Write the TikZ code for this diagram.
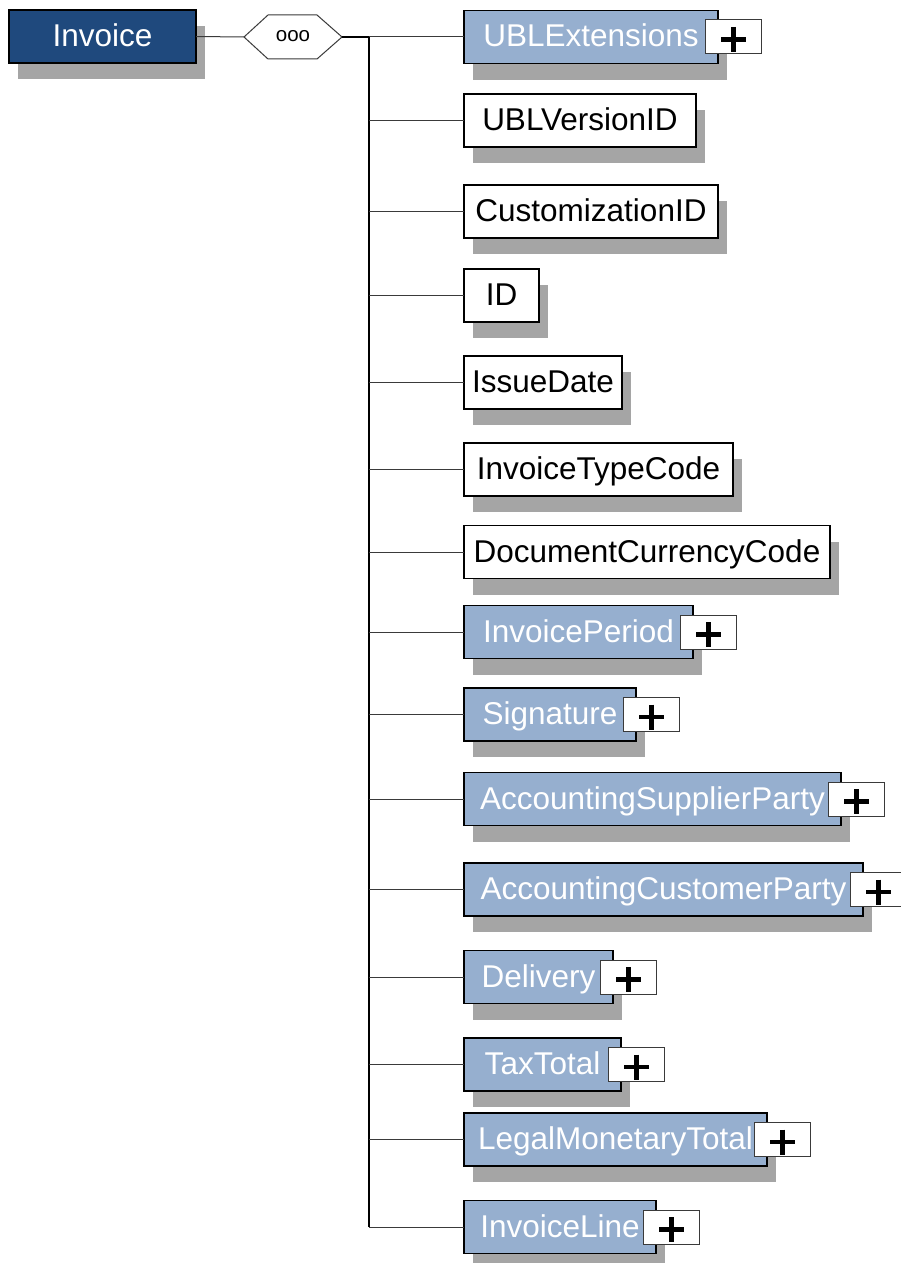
\documentclass[tikz,border=0pt]{standalone}
\usepackage{fontspec}
\setmainfont{Liberation Sans}
\usetikzlibrary{calc,backgrounds}
\definecolor{darkblue}{HTML}{1F497D}
\definecolor{lightblue}{HTML}{96AFCF}
\definecolor{shadowgray}{HTML}{A5A5A5}
\definecolor{linegray}{HTML}{3A3A3A}
\tikzset{
  elem/.style={draw=black, line width=1.2pt, minimum height=53pt, inner sep=0pt, outer sep=0pt,
    font=\fontsize{31.5}{36}\selectfont, text height=26pt, text depth=6pt},
  plainelem/.style={elem, fill=white, text=black},
  complexelem/.style={elem, fill=lightblue, text=white},
  rootelem/.style={elem, fill=darkblue, text=white},
  plusbox/.style={draw=linegray, fill=white, line width=1pt, minimum width=56pt, minimum height=34pt,
    inner sep=0pt, outer sep=0pt,
    path picture={
      \draw[black, line width=4.6pt] ($(path picture bounding box.center)+(-12.5,2.5)$) -- ++(25,0);
      \draw[black, line width=4.6pt] ($(path picture bounding box.center)+(0,-10)$) -- ++(0,25);
    }},
  conn/.style={draw=linegray, line width=1pt},
  trunkline/.style={draw=black, line width=1.6pt},
  hexline/.style={draw=linegray, line width=1pt},
  shadowfill/.style={fill=shadowgray},
}
\newcommand\elemrow[5]{%
  \node[#4, minimum width=#3-464, anchor=center] (#1) at ({(464+#3)/2},#2) {#5};
  \draw[conn] (trunk|-#1.west) -- (#1.west);
  \begin{pgfonlayer}{background}
    \fill[shadowfill] ($(#1.north west)+(9,16)$) rectangle ($(#1.south east)+(9,16)$);
  \end{pgfonlayer}
}
\newcommand\plusof[1]{%
  \node[plusbox, anchor=west] (#1plus) at ($(#1.east)+(-12.5,0)$) {};
}
\begin{document}
\begin{tikzpicture}[x=1pt,y=-1pt]
\useasboundingbox (0,0) rectangle (901,1263);
\clip (0,0) rectangle (901,1263);
\begin{pgfonlayer}{background}
  \fill[white] (0,0) rectangle (901,1263);
\end{pgfonlayer}

% root
\node[rootelem, minimum width=187pt] (invoice) at (102.5,36.5) {Invoice};
\begin{pgfonlayer}{background}
  \fill[shadowfill] ($(invoice.north west)+(9,16)$) rectangle ($(invoice.south east)+(9,16)$);
\end{pgfonlayer}

% sequence compositor
\coordinate (hl) at (244,37);
\coordinate (hr) at (342,37);
\draw[hexline, fill=white] (hl) -- (268,15) -- (317,15) -- (hr) -- (317,59) -- (268,59) -- cycle;
\node[font=\fontsize{20.5}{24}\selectfont, inner sep=0pt] (seq) at (293,36) {ooo};
\draw[conn] (invoice.east) -- (hl);

\coordinate (trunk) at (369,37);
\coordinate (trunkend) at (369,1227);
\draw[trunkline] (hr) -- (trunk);
\draw[trunkline] (trunk) -- (trunkend);

\elemrow{ext}{37}{718}{complexelem}{UBLExtensions}
\elemrow{ver}{120.5}{696}{plainelem}{UBLVersionID}
\elemrow{cust}{211.5}{718}{plainelem}{CustomizationID}
\elemrow{id}{295.5}{539}{plainelem}{ID}
\elemrow{date}{382.5}{622}{plainelem}{IssueDate}
\elemrow{type}{469.5}{733}{plainelem}{InvoiceTypeCode}
\elemrow{cur}{552}{830}{plainelem}{DocumentCurrencyCode}
\elemrow{per}{632}{693}{complexelem}{InvoicePeriod}
\elemrow{sig}{714.5}{636}{complexelem}{Signature}
\elemrow{sup}{799}{841}{complexelem}{AccountingSupplierParty}
\elemrow{cus}{889.5}{863}{complexelem}{AccountingCustomerParty}
\elemrow{del}{977}{613}{complexelem}{Delivery}
\elemrow{tax}{1064.5}{621}{complexelem}{TaxTotal}
\elemrow{legal}{1139.5}{767}{complexelem}{LegalMonetaryTotal}
\elemrow{line}{1227}{656}{complexelem}{InvoiceLine}

\plusof{ext}
\plusof{per}
\plusof{sig}
\plusof{sup}
\plusof{cus}
\plusof{del}
\plusof{tax}
\plusof{legal}
\plusof{line}
\end{tikzpicture}
\end{document}
